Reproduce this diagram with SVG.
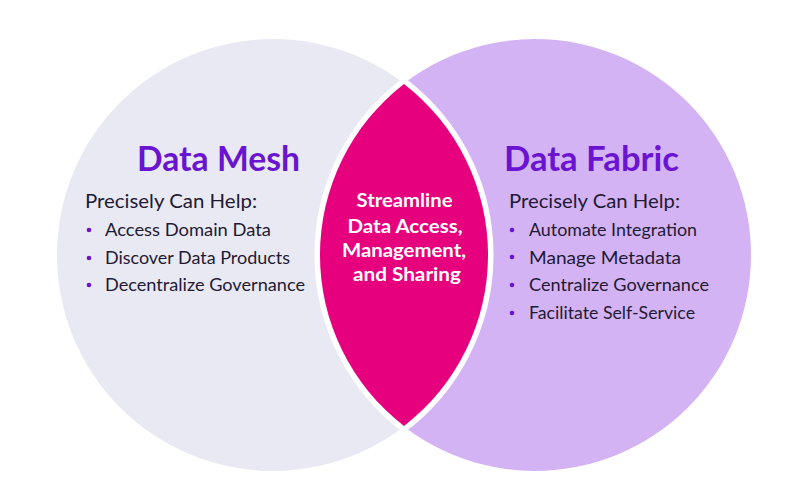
<svg xmlns="http://www.w3.org/2000/svg" width="800" height="492" viewBox="0 0 800 492">
<style>
text{font-family:"Lato","Liberation Sans",sans-serif}
.t{font-size:34px;font-weight:700;fill:#6a14d1}
.h{font-size:19.5px;fill:#1f1a33}
.i{font-size:18px;fill:#1f1a33}
.c{font-size:18.5px;font-weight:700;fill:#fff;text-anchor:middle}
.b{fill:#6a14d1}
</style>
<rect width="800" height="492" fill="#fff"/>
<g id="mesh">
<circle cx="273" cy="255" r="216" fill="#e9e9f4"/>
</g>
<g id="fabric">
<circle cx="535" cy="255" r="216" fill="#d4b3f5"/>
</g>
<g id="overlap">
<path d="M404 84A216 216 0 0 1 404 426A216 216 0 0 1 404 84Z" fill="none" stroke="#fff" stroke-width="11" stroke-linejoin="round"/>
<path d="M404 84A216 216 0 0 1 404 426A216 216 0 0 1 404 84Z" fill="#e6007e"/>
<text class="c" x="404.500" y="207" textLength="96" lengthAdjust="spacingAndGlyphs">Streamline</text>
<text class="c" x="405" y="233" textLength="115" lengthAdjust="spacingAndGlyphs">Data Access,</text>
<text class="c" x="404" y="257" textLength="124" lengthAdjust="spacingAndGlyphs">Management,</text>
<text class="c" x="407" y="281" textLength="108" lengthAdjust="spacingAndGlyphs">and Sharing</text>
</g>
<g id="mesh-text">
<text class="t" x="137" y="171" textLength="163" lengthAdjust="spacingAndGlyphs">Data Mesh</text>
<text class="h" x="85" y="208" textLength="172" lengthAdjust="spacingAndGlyphs">Precisely Can Help:</text>
<circle class="b" cx="89" cy="230" r="2.3"/>
<text class="i" x="105" y="236" textLength="166" lengthAdjust="spacingAndGlyphs">Access Domain Data</text>
<circle class="b" cx="89" cy="258" r="2.3"/>
<text class="i" x="105" y="264" textLength="185" lengthAdjust="spacingAndGlyphs">Discover Data Products</text>
<circle class="b" cx="89" cy="285" r="2.3"/>
<text class="i" x="105" y="291" textLength="200" lengthAdjust="spacingAndGlyphs">Decentralize Governance</text>
</g>
<g id="fabric-text">
<text class="t" x="504" y="171" textLength="175" lengthAdjust="spacingAndGlyphs">Data Fabric</text>
<text class="h" x="509" y="208" textLength="171" lengthAdjust="spacingAndGlyphs">Precisely Can Help:</text>
<circle class="b" cx="512" cy="230" r="2.3"/>
<text class="i" x="529" y="236" textLength="168" lengthAdjust="spacingAndGlyphs">Automate Integration</text>
<circle class="b" cx="512" cy="257" r="2.3"/>
<text class="i" x="529" y="264" textLength="152" lengthAdjust="spacingAndGlyphs">Manage Metadata</text>
<circle class="b" cx="512" cy="285" r="2.3"/>
<text class="i" x="529" y="291" textLength="180" lengthAdjust="spacingAndGlyphs">Centralize Governance</text>
<circle class="b" cx="512" cy="313" r="2.3"/>
<text class="i" x="529" y="319" textLength="166" lengthAdjust="spacingAndGlyphs">Facilitate Self-Service</text>
</g>
</svg>
